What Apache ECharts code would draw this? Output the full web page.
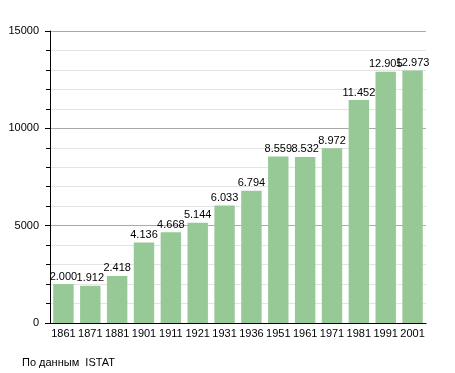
<!DOCTYPE html>
<html><head><meta charset="utf-8">
<script src="https://cdn.jsdelivr.net/npm/echarts@6/dist/echarts.min.js"></script>
<style>html,body{margin:0;padding:0;background:#fff}#c{width:455px;height:373px}</style>
</head><body><div id="c"></div>
<script>
const years = ['1861','1871','1881','1901','1911','1921','1931','1936','1951','1961','1971','1981','1991','2001'];
const population = [2000,1912,2418,4136,4668,5144,6033,6794,8559,8532,8972,11452,12905,12973];
const yTicks = [0,5000,10000,15000];
const sourceNote = 'По данным  ISTAT';

const fmt = v => String(v).replace(/\B(?=(\d{3})+(?!\d))/g, '.');
const chart = echarts.init(document.getElementById('c'), null, {renderer:'canvas'});
chart.setOption({
  animation:false,
  textStyle:{fontFamily:'Liberation Sans, Arial, sans-serif'},
  grid:{left:50,right:29,top:31,bottom:50,containLabel:false},
  graphic:[{type:'text',left:22,top:357,style:{text:sourceNote,font:'11px Liberation Sans, Arial, sans-serif',fill:'#000'}}],
  xAxis:{type:'category',data:years,
    axisLine:{lineStyle:{color:'#000',width:1}},
    axisTick:{show:false},
    axisLabel:{color:'#000',fontSize:11,margin:5,interval:0}},
  yAxis:{type:'value',min:yTicks[0],max:yTicks[yTicks.length-1],interval:5000,
    axisLine:{show:true,lineStyle:{color:'#000',width:1}},
    axisTick:{show:true,length:5,lineStyle:{color:'#000'}},
    minorTick:{show:true,splitNumber:5,length:4,lineStyle:{color:'#000'}},
    axisLabel:{color:'#000',fontSize:11,margin:11,formatter:v=>String(v)},
    splitLine:{show:true,lineStyle:{color:'#aaa',width:1}},
    minorSplitLine:{show:true,lineStyle:{color:'#e4e4e4',width:1}}},
  series:[{type:'bar',data:population,barCategoryGap:'24%',
    itemStyle:{color:'#96c996'},
    label:{show:true,position:'top',distance:2,color:'#000',fontSize:11,formatter:p=>fmt(p.value)}}]
});
</script></body></html>
